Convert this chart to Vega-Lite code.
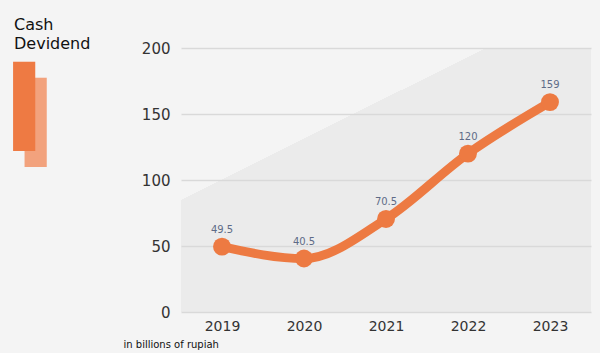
{
  "$schema": "https://vega.github.io/schema/vega-lite/v6.json",
  "width": 410,
  "height": 264,
  "autosize": {"type": "none"},
  "padding": {"left": 181, "top": 48, "right": 9, "bottom": 41},
  "background": "#f4f4f4",
  "config": {
    "view": {
      "stroke": null,
      "fill": {
        "gradient": "linear",
        "x1": -0.232,
        "y1": 0.275,
        "x2": 0.232,
        "y2": 0.875,
        "stops": [
          {"offset": 0, "color": "#f4f4f4"},
          {"offset": 0.5, "color": "#f4f4f4"},
          {"offset": 0.5, "color": "#ebebeb"},
          {"offset": 1, "color": "#ebebeb"}
        ]
      }
    },
    "font": "DejaVu Sans"
  },
  "title": {
    "text": ["Cash", "Devidend"],
    "subtitle": "▍",
    "orient": "top",
    "anchor": "start",
    "frame": "group",
    "offset": 0,
    "dx": -167,
    "dy": 106,
    "font": "DejaVu Sans",
    "fontSize": 16,
    "fontWeight": "normal",
    "lineHeight": 19,
    "color": "#111111",
    "subtitleFont": "DejaVu Sans",
    "subtitleFontSize": 75,
    "subtitleColor": "#ee7a43",
    "subtitlePadding": 21
  },
  "data": {
    "values": [
      {"year": "2019", "value": 49.5},
      {"year": "2020", "value": 40.5},
      {"year": "2021", "value": 70.5},
      {"year": "2022", "value": 120},
      {"year": "2023", "value": 159}
    ]
  },
  "encoding": {
    "x": {
      "field": "year",
      "type": "ordinal",
      "scale": {"type": "point", "padding": 0.5},
      "axis": {
        "title": "in billions of rupiah",
        "titleFont": "DejaVu Sans",
        "titleFontSize": 10,
        "titleFontWeight": "normal",
        "titleColor": "#111111",
        "titleAnchor": "start",
        "titleAlign": "left",
        "titleBaseline": "alphabetic",
        "titleX": -58,
        "titleY": 35,
        "labelAngle": 0,
        "labelFontSize": 14,
        "labelColor": "#333333",
        "labelPadding": 7,
        "domain": false,
        "ticks": false,
        "grid": false
      }
    },
    "y": {
      "field": "value",
      "type": "quantitative",
      "scale": {"domain": [0, 200]},
      "axis": {
        "values": [0, 50, 100, 150, 200],
        "title": "▍",
        "titleFont": "DejaVu Sans",
        "titleFontSize": 75,
        "titleFontWeight": "normal",
        "titleColor": "#f2a27d",
        "titleAngle": 0,
        "titleAlign": "left",
        "titleBaseline": "alphabetic",
        "titleX": -156,
        "titleY": 99,
        "labelFontSize": 15,
        "labelColor": "#333333",
        "labelPadding": 11,
        "domain": false,
        "ticks": false,
        "grid": true,
        "gridColor": "#d9d9d9",
        "gridWidth": 1.5
      }
    }
  },
  "layer": [
    {
      "mark": {"type": "line", "interpolate": "monotone", "color": "#ed7a42", "strokeWidth": 9, "strokeCap": "round"}
    },
    {
      "mark": {"type": "point", "filled": true, "opacity": 1, "color": "#ed7a42", "size": 320, "shape": "circle"}
    },
    {
      "mark": {"type": "text", "dy": -17, "fontSize": 10, "color": "#5e6b87", "baseline": "middle"},
      "encoding": {"text": {"field": "value", "type": "quantitative"}}
    }
  ]
}
